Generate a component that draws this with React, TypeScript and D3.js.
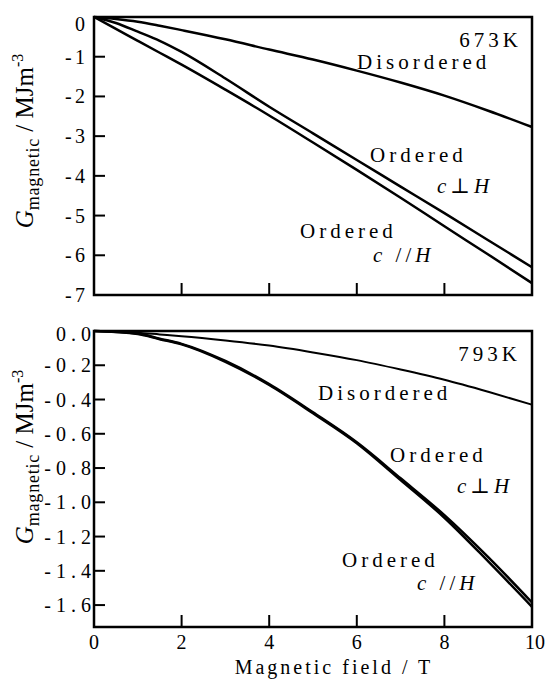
import React from 'react';
import * as d3 from 'd3';

// field values (T)
const fieldTop = [0, 0.5, 1, 1.5, 2, 3, 4, 5, 6, 7, 8, 9, 10];
const disorderedTop = [0, -0.05, -0.12, -0.22, -0.33, -0.56, -0.82, -1.07, -1.35, -1.65, -1.98, -2.36, -2.77];
const orderedPerpTop = [0, -0.15, -0.37, -0.6, -0.88, -1.55, -2.26, -2.93, -3.6, -4.27, -4.94, -5.62, -6.3];
const orderedParTop = [0, -0.3, -0.6, -0.9, -1.2, -1.83, -2.48, -3.16, -3.85, -4.55, -5.27, -5.98, -6.7];

const fieldBottom = [0, 1, 1.5, 2, 3, 4, 5, 6, 7, 8, 9, 10];
const disorderedBottom = [0, -0.01, -0.02, -0.03, -0.055, -0.085, -0.125, -0.17, -0.225, -0.285, -0.355, -0.43];
const orderedPerpBottom = [0, -0.015, -0.045, -0.075, -0.175, -0.31, -0.475, -0.65, -0.86, -1.075, -1.32, -1.585];
const orderedParBottom = [0, -0.018, -0.048, -0.078, -0.18, -0.315, -0.48, -0.655, -0.87, -1.09, -1.345, -1.61];

const xTicks = [0, 2, 4, 6, 8, 10];
const xTickLabels = ['0', '2', '4', '6', '8', '10'];
const yTicksTop = [0, -1, -2, -3, -4, -5, -6, -7];
const yTickLabelsTop = ['0', '-1', '-2', '-3', '-4', '-5', '-6', '-7'];
const yTicksBottom = [0, -0.2, -0.4, -0.6, -0.8, -1.0, -1.2, -1.4, -1.6];
const yTickLabelsBottom = ['0.0', '-0.2', '-0.4', '-0.6', '-0.8', '-1.0', '-1.2', '-1.4', '-1.6'];

const FONT = "'Liberation Serif', 'DejaVu Serif', serif";
const left = 94;
const right = 532;

const x = d3.scaleLinear().domain([0, 10]).range([left, right]);

type Label = { text: React.ReactNode; x: number; y: number; anchor?: string };

const Panel = ({
  top, bottom, domainMin, yTicks, yLabels, labelEnd, labelSpacing, firstShift, series, labels, showX, titleY,
}: {
  top: number; bottom: number; domainMin: number; yTicks: number[]; yLabels: string[];
  labelEnd: number; labelSpacing: number; firstShift: number;
  series: { xs: number[]; ys: number[]; w: number }[]; labels: Label[]; showX: boolean; titleY: number;
}) => {
  const y = d3.scaleLinear().domain([domainMin, 0]).range([bottom, top]);
  const line = d3.line<[number, number]>()
    .x(d => x(d[0]))
    .y(d => y(d[1]))
    .curve(d3.curveMonotoneX);
  return (
    <g style={{ fontFamily: FONT }}>
      {series.map((s, i) => (
        <path key={i} d={line(s.xs.map((v, j) => [v, s.ys[j]] as [number, number])) || ''}
          fill="none" stroke="#000" strokeWidth={s.w} />
      ))}
      <rect x={left} y={top} width={right - left} height={bottom - top} fill="none" stroke="#000" strokeWidth={2.5} />
      {yTicks.map((t, i) => (
        <g key={i}>
          <line x1={left} x2={left + 11} y1={y(t)} y2={y(t)} stroke="#000" strokeWidth={2} />
          <text x={labelEnd + labelSpacing} y={y(t) + 7 + (i === 0 ? firstShift : 0)} textAnchor="end"
            fontSize={20} letterSpacing={labelSpacing}>{yLabels[i]}</text>
        </g>
      ))}
      {xTicks.slice(1, -1).map((t, i) => (
        <line key={i} x1={x(t)} x2={x(t)} y1={bottom} y2={bottom - 12} stroke="#000" strokeWidth={2} />
      ))}
      {showX && xTicks.map((t, i) => (
        <text key={i} x={x(t) + (i === xTicks.length - 1 ? 3 : 0)} y={bottom + 22} textAnchor="middle" fontSize={20}>{xTickLabels[i]}</text>
      ))}
      {labels.map((l, i) => (
        <text key={i} x={l.x} y={l.y} textAnchor={l.anchor || 'start'} fontSize={21} letterSpacing={4}>{l.text}</text>
      ))}
      <text transform={`translate(33, ${titleY}) rotate(-90)`} textAnchor="middle" fontSize={25}>
        <tspan fontStyle="italic">G</tspan>
        <tspan fontSize={18} dy={6} letterSpacing={0.8}>magnetic</tspan>
        <tspan dy={-6}> / MJm</tspan>
        <tspan fontSize={16} dy={-10}>-3</tspan>
      </text>
    </g>
  );
};

const perp = (
  <>
    <tspan fontStyle="italic">c</tspan>
    <tspan>⊥</tspan>
    <tspan fontStyle="italic">H</tspan>
  </>
);
const par = (
  <>
    <tspan fontStyle="italic">c</tspan>
    <tspan> //</tspan>
    <tspan fontStyle="italic">H</tspan>
  </>
);

export default function App() {
  return (
    <svg width={555} height={684} style={{ position: 'absolute', left: 0, top: 0, background: '#fff' }}>
      <Panel
        top={17}
        bottom={295}
        domainMin={-7}
        yTicks={yTicksTop}
        yLabels={yTickLabelsTop}
        labelEnd={85}
        labelSpacing={3.3}
        firstShift={7}
        showX={false}
        titleY={141}
        series={[
          { xs: fieldTop, ys: disorderedTop, w: 2.5 },
          { xs: fieldTop, ys: orderedPerpTop, w: 2.5 },
          { xs: fieldTop, ys: orderedParTop, w: 2.5 },
        ]}
        labels={[
          { text: '673K', x: 522, y: 47, anchor: 'end' },
          { text: 'Disordered', x: 357, y: 69 },
          { text: 'Ordered', x: 370, y: 162 },
          { text: perp, x: 437, y: 193 },
          { text: 'Ordered', x: 300, y: 238 },
          { text: par, x: 373, y: 262 },
        ]}
      />
      <Panel
        top={331}
        bottom={627}
        domainMin={-1.728}
        yTicks={yTicksBottom}
        yLabels={yTickLabelsBottom}
        labelEnd={91}
        labelSpacing={5}
        firstShift={3}
        showX={true}
        titleY={457}
        series={[
          { xs: fieldBottom, ys: disorderedBottom, w: 2 },
          { xs: fieldBottom, ys: orderedPerpBottom, w: 2.5 },
          { xs: fieldBottom, ys: orderedParBottom, w: 2.5 },
        ]}
        labels={[
          { text: '793K', x: 521, y: 361, anchor: 'end' },
          { text: 'Disordered', x: 318, y: 400 },
          { text: 'Ordered', x: 390, y: 462 },
          { text: perp, x: 457, y: 493 },
          { text: 'Ordered', x: 342, y: 567 },
          { text: par, x: 417, y: 590 },
        ]}
      />
      <text x={334} y={674} textAnchor="middle" style={{ fontFamily: FONT }} fontSize={20} letterSpacing={3}>
        Magnetic field / T
      </text>
    </svg>
  );
}
